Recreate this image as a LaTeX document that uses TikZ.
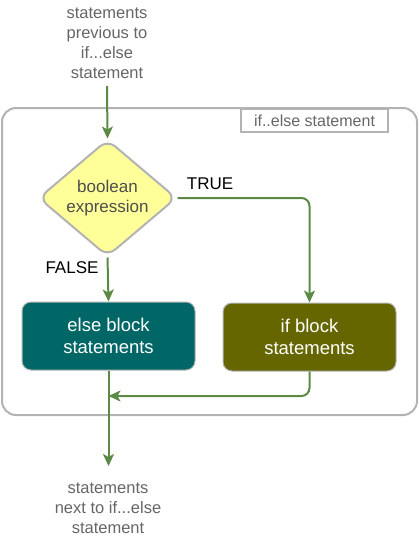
\documentclass[tikz,border=0pt]{standalone}
\usepackage{fontspec}
\setmainfont{Liberation Sans}
\usetikzlibrary{shapes.geometric,arrows.meta}
\definecolor{flow}{HTML}{5C8A45}
\definecolor{frame}{HTML}{B3B3B3}
\definecolor{txtgray}{HTML}{666666}
\definecolor{dgray}{HTML}{4D4D4D}
\definecolor{yel}{HTML}{FFFF99}
\definecolor{teal}{HTML}{006666}
\definecolor{olive}{HTML}{666600}
\tikzset{
  plain/.style={align=center,font=\fontsize{16.5pt}{20pt}\selectfont,inner sep=0pt},
  flowline/.style={draw=flow,line width=2pt,-{Stealth[length=12pt,width=11pt,inset=3pt]},rounded corners=8pt},
  block/.style={rounded corners=9pt,draw=frame,line width=1pt,minimum width=173pt,minimum height=68pt,text=white,align=center,font=\fontsize{18.5pt}{22pt}\selectfont},
}
\begin{document}
\begin{tikzpicture}[x=1pt,y=-1pt]
\useasboundingbox (0,0) rectangle (419,549);
% outer frame
\draw[frame,line width=2pt,rounded corners=14pt] (2,108) rectangle (417,415);
\node[draw=frame,line width=2pt,minimum width=147pt,minimum height=23pt,inner sep=0pt,text=txtgray,font=\fontsize{16pt}{18pt}\selectfont] (lbl) at (314.5,120.5) {if..else statement};
% texts
\node[plain,text=txtgray] (prev) at (107,43.5) {statements\\previous to\\if...else\\statement};
\node[plain,text=txtgray] (next) at (108,508) {statements\\next to if...else\\statement};
% diamond
\node[diamond,aspect=1.18,fill=yel,draw=frame,line width=2pt,rounded corners=10pt,minimum width=138pt,minimum height=117pt,inner sep=0pt] (cond) at (107.5,198) {};
\node[plain,text=dgray,font=\fontsize{17pt}{20pt}\selectfont] (condtxt) at (107.5,198) {boolean\\expression};
% blocks
\node[block,fill=teal] (else) at (108.5,336) {else block\\statements};
\node[block,fill=olive] (if) at (309.5,337) {if block\\statements};
% connector anchors
\coordinate (topend) at (107,86);
\coordinate (join) at (108.5,396);
\coordinate (botend) at (108.5,466);
% connectors
\draw[flowline] (topend) -- (cond.north);
\draw[flowline] (cond.east) -- (if.north |- cond.east) -- (if.north);
\draw[flowline] (cond.south) -- (else.north);
\draw[flowline] (if.south) |- (join);
\draw[flowline] (else.south) -- (botend);
% labels
\node[plain,font=\fontsize{17pt}{18pt}\selectfont] (truel) at (210,184) {TRUE};
\node[plain,font=\fontsize{17pt}{18pt}\selectfont] (falsel) at (72,268) {FALSE};
\end{tikzpicture}
\end{document}
